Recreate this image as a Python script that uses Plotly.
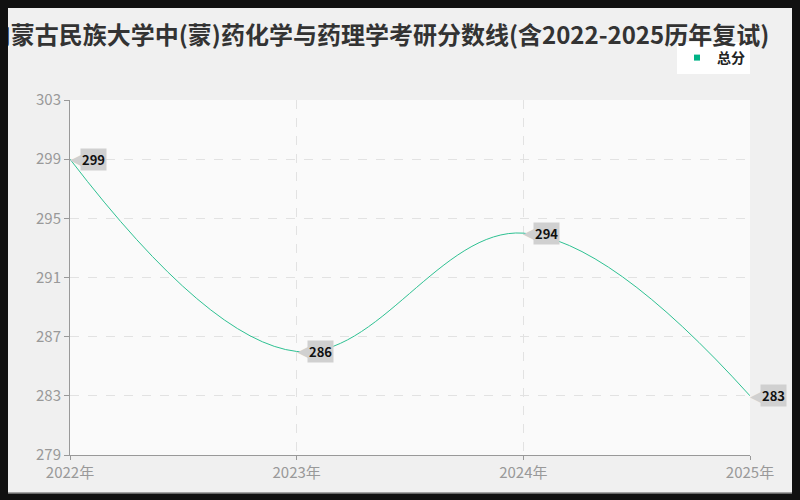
import plotly.graph_objects as go

years = [2022, 2023, 2024, 2025]
year_labels = ["2022年", "2023年", "2024年", "2025年"]
scores = [299, 286, 294, 283]
y_ticks = [279, 283, 287, 291, 295, 299, 303]

green = "#2ec192"
label_gray = "#d0d0d0"
font_cn = "Noto Sans CJK SC"
tick_font = "Liberation Sans Narrow, Noto Sans CJK SC"

# page is drawn 8px in from the window corner, so layout is shifted by that
off = 8
pw, ph = 680, 355
top = 100 - off

fig = go.Figure()

fig.add_trace(go.Scatter(
    x=years, y=scores, mode="lines",
    line=dict(color=green, width=1, shape="spline", smoothing=1.1),
    showlegend=False, hoverinfo="skip",
))
# legend entry with a small square marker
fig.add_trace(go.Scatter(
    x=[None], y=[None], mode="markers", name="<b>总分</b>",
    marker=dict(symbol="square", size=6, color="#00b386"),
))

# callout labels
for x, y in zip(years, scores):
    fig.add_annotation(
        x=x, y=y, text="◀", showarrow=False, xanchor="left", yanchor="middle",
        xshift=-2, font=dict(size=21, color=label_gray, family="DejaVu Sans"),
    )
    fig.add_annotation(
        x=x, y=y, text="<b>%d</b>" % y, showarrow=False, xanchor="left", yanchor="middle",
        xshift=10, bgcolor=label_gray, borderpad=1,
        font=dict(size=13, color="#111", family=font_cn),
    )

# dark frame around the light panel, then the plot background
fig.add_shape(
    type="rect", xref="paper", yref="paper", layer="below",
    x0=(4 - 70) / pw, x1=(795 - 70) / pw, y0=(455 - 493) / ph, y1=(455 - 5) / ph,
    line=dict(color="#888", width=1.5), fillcolor="#f0f0f0",
)
fig.add_shape(
    type="rect", xref="paper", yref="paper", layer="below",
    x0=0, x1=1, y0=0, y1=1, line=dict(width=0), fillcolor="#fafafa",
)

fig.update_layout(
    width=800, height=500,
    margin=dict(l=70 - off, r=800 - 750 + off, t=top, b=500 - 455 + off),
    paper_bgcolor="#111",
    plot_bgcolor="#fafafa",
    title=dict(
        text="<b>内蒙古民族大学中(蒙)药化学与药理学考研分数线(含2022-2025历年复试)</b>",
        x=(378 - off) / 800, xref="container", xanchor="center",
        y=1 - (36 - off) / 500, yanchor="middle",
        font=dict(family=font_cn, size=24, color="#333"),
    ),
    legend=dict(
        x=1.0, y=(455 - 42) / ph, xanchor="right", yanchor="top",
        bgcolor="white", font=dict(family=font_cn, size=14, color="#222"),
        itemwidth=30, borderwidth=0,
    ),
    font=dict(family=font_cn),
)

fig.update_xaxes(
    range=[2022, 2025], tickvals=years, ticktext=year_labels,
    showline=True, linecolor="#999", linewidth=1,
    ticks="outside", ticklen=4, tickcolor="#999",
    showgrid=True, gridcolor="#e2e2e2", griddash="dash",
    tickfont=dict(size=15, color="#999", family=tick_font), zeroline=False,
)
fig.update_yaxes(
    range=[279, 303], tickvals=y_ticks,
    showline=True, linecolor="#999", linewidth=1,
    ticks="outside", ticklen=5, tickcolor="#999",
    showgrid=True, gridcolor="#e2e2e2", griddash="dash",
    tickfont=dict(size=15, color="#999", family=tick_font), zeroline=False,
)

fig.write_html("out.html", post_script="document.body.style.background='#111';")
